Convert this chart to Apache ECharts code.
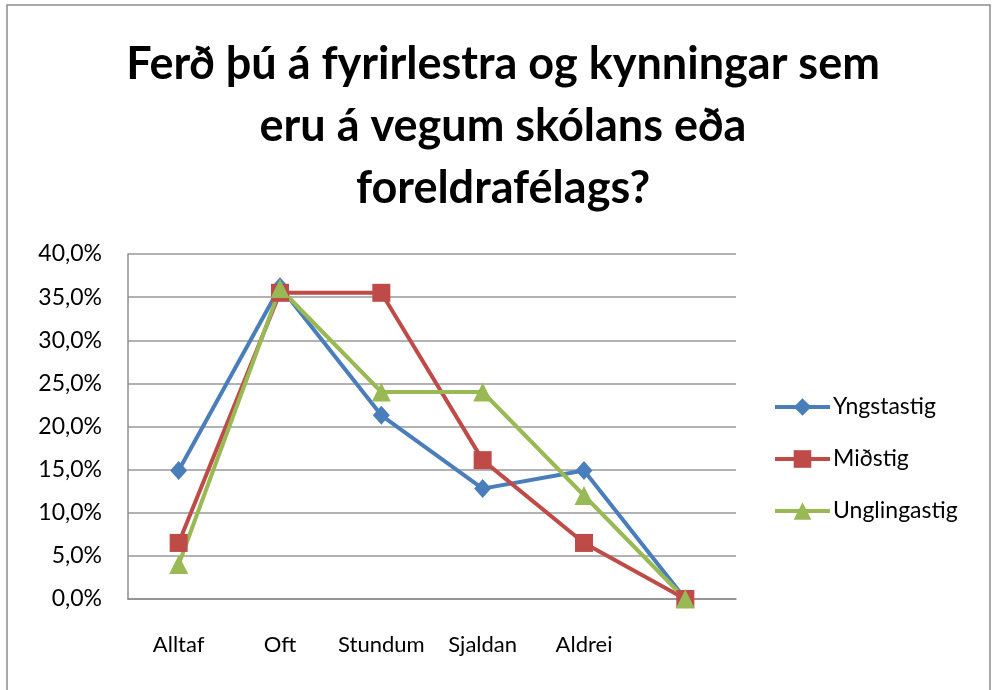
<!DOCTYPE html>
<html>
<head>
<meta charset="utf-8">
<script src="https://cdn.jsdelivr.net/npm/echarts@6/dist/echarts.min.js"></script>
<style>
  html, body { margin: 0; padding: 0; background: #fff; }
  #chart { width: 993px; height: 690px; }
</style>
</head>
<body>
<div id="chart"></div>
<script>
const categories = ['Alltaf', 'Oft', 'Stundum', 'Sjaldan', 'Aldrei', '']
const seriesNames = ['Yngstastig', 'Miðstig', 'Unglingastig']
const yngstastig = [14.9, 36.2, 21.3, 12.8, 14.9, 0]
const midstig = [6.5, 35.5, 35.5, 16.1, 6.5, 0]
const unglingastig = [4.0, 36.0, 24.0, 24.0, 12.0, 0]
const titleText = 'Ferð þú á fyrirlestra og kynningar sem\neru á vegum skólans eða\nforeldrafélags?'

const font = 'Lato, "Open Sans", sans-serif'
const colors = ['#4a7ebb', '#be4b48', '#98b954']

const chart = echarts.init(document.getElementById('chart'))

const makeSeries = (name, data, symbol, size, color) => ({
  name: name,
  type: 'line',
  data: data,
  symbol: symbol,
  symbolSize: size,
  lineStyle: { width: 4, color: color },
  itemStyle: { color: color },
  emphasis: { disabled: true },
})

chart.setOption({
  backgroundColor: '#fff',
  animation: false,
  color: colors,
  graphic: [
    {
      type: 'rect',
      shape: { x: 7, y: 5, width: 983, height: 720 },
      style: { fill: 'none', stroke: '#8c8c8c', lineWidth: 1.5 },
      z: -1,
    },
  ],
  title: {
    text: titleText,
    left: 498,
    top: 28,
    textAlign: 'center',
    textStyle: {
      fontFamily: font,
      fontWeight: 'bold',
      fontSize: 45,
      lineHeight: 62,
      color: '#000',
    },
  },
  legend: {
    orient: 'vertical',
    left: 773,
    top: 395,
    padding: 0,
    itemWidth: 55,
    itemHeight: 22,
    itemGap: 28,
    lineStyle: { width: 4 },
    textStyle: { fontFamily: font, fontSize: 23, lineHeight: 24, color: '#000', padding: [0, 0, 0, -2] },
    data: seriesNames,
  },
  grid: {
    left: 128,
    right: 257,
    top: 254,
    bottom: 91,
    containLabel: false,
  },
  xAxis: {
    type: 'category',
    data: categories,
    boundaryGap: true,
    axisLine: { lineStyle: { color: '#8c8c8c', width: 1.5 } },
    axisTick: { show: false },
    axisLabel: { fontFamily: font, fontSize: 22, color: '#000', margin: 35, interval: 0, hideOverlap: false },
  },
  yAxis: {
    type: 'value',
    min: 0,
    max: 40,
    interval: 5,
    axisLine: { show: true, lineStyle: { color: '#8c8c8c', width: 1.5 } },
    axisTick: { show: false },
    splitLine: { lineStyle: { color: '#999', width: 1.5 } },
    axisLabel: {
      fontFamily: font,
      fontSize: 23,
      color: '#000',
      margin: 26,
      formatter: (v) => v.toFixed(1).replace('.', ',') + '%',
    },
  },
  series: [
    makeSeries(seriesNames[0], yngstastig, 'diamond', [17, 19], colors[0]),
    makeSeries(seriesNames[1], midstig, 'rect', 18, colors[1]),
    makeSeries(seriesNames[2], unglingastig, 'triangle', 19, colors[2]),
  ],
})
</script>
</body>
</html>
